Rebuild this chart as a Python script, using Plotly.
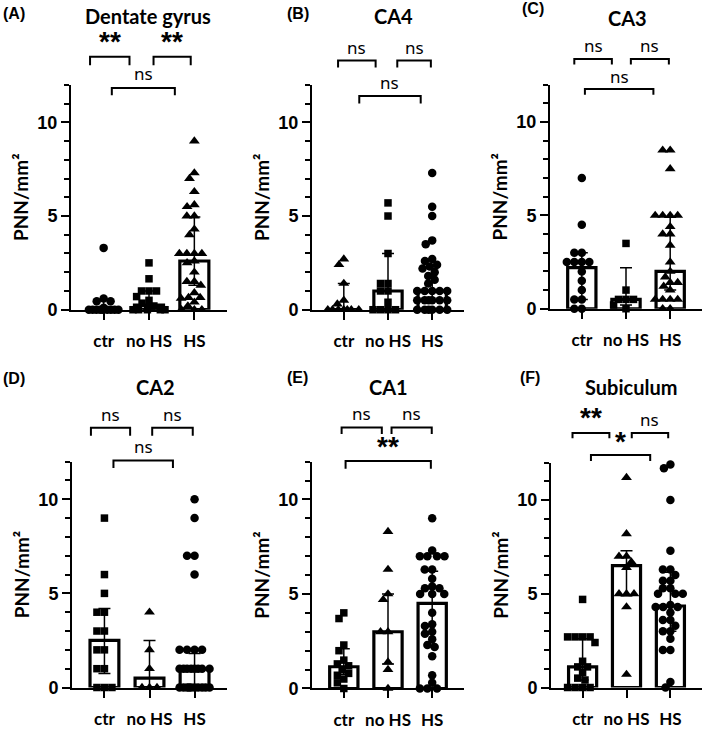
import plotly.graph_objects as go

W, H = 709, 734

# ---------------- data ----------------
groups = ["ctr", "no HS", "HS"]
titles = ["Dentate gyrus", "CA4", "CA3", "CA2", "CA1", "Subiculum"]
panel_labels = ["(A)", "(B)", "(C)", "(D)", "(E)", "(F)"]

# Dentate gyrus
dg_ctr = [3.3, 0.6, 0.45, 0.45, 0.1, 0, 0, 0, 0, 0, 0, 0, 0, 0]
dg_nohs = [2.5, 1.65, 1.0, 1.0, 1.0, 0.7, 0.5, 0.35, 0.2, 0, 0, 0, 0, 0]
dg_hs = [9.0, 7.3, 7.0, 6.3, 5.6, 5.5, 5.0, 5.0, 4.3, 4.0, 3.0, 3.0, 3.0, 3.0, 2.6,
         2.5, 2.0, 1.5, 1.5, 1.3, 0.9, 0.65, 0.65, 0.6, 0.4, 0.2, 0, 0, 0]
dg_median = [0.1, 0.25, 2.6]
dg_upper = [0.5, 1.0, 4.95]
dg_lower = [0.0, 0.0, 1.3]
dg_sig = ["**", "**", "ns"]

# CA4
ca4_ctr = [2.7, 2.4, 1.4, 0.5, 0.3, 0, 0, 0, 0, 0, 0, 0]
ca4_nohs = [5.7, 5.0, 3.0, 1.4, 1.4, 1.0, 1.0, 0.4, 0, 0, 0, 0]
ca4_hs = [7.3, 5.5, 5.0, 3.7, 3.5, 2.7, 2.6, 2.4, 2.3, 2.2, 2.0, 1.8, 1.6, 1.4, 1.0,
          1.0, 1.0, 1.0, 1.0, 0.5, 0.5, 0.5, 0.5, 0.5, 0.5, 0, 0, 0, 0, 0, 0]
ca4_median = [0.0, 1.0, 1.0]
ca4_upper = [1.4, 3.0, 2.2]
ca4_lower = [0.0, 0.0, 0.5]
ca4_sig = ["ns", "ns", "ns"]

# CA3
ca3_ctr = [7.0, 4.5, 3.0, 3.0, 2.5, 2.5, 2.5, 2.5, 2.0, 1.5, 1.0, 0.5, 0.5, 0, 0]
ca3_nohs = [3.5, 1.0, 0.5, 0.5, 0.5, 0.2, 0]
ca3_hs = [8.5, 8.5, 7.5, 5.0, 5.0, 5.0, 5.0, 4.4, 4.0, 4.0, 3.4, 2.5, 2.0, 1.7,
          1.4, 1.4, 1.2, 1.0, 0.5, 0.5, 0.5, 0.5, 0, 0]
ca3_median = [2.2, 0.5, 2.0]
ca3_upper = [3.0, 2.2, 4.9]
ca3_lower = [0.5, 0.2, 1.0]
ca3_sig = ["ns", "ns", "ns"]

# CA2
ca2_ctr = [9, 6, 5, 4, 4, 3, 3, 2, 2, 1, 1, 0, 0, 0]
ca2_nohs = [4, 2, 1, 0, 0, 0]
ca2_hs = [10, 9, 7, 7, 6, 2, 2, 2, 2, 1, 1, 1, 1, 1, 1, 1, 1, 0, 0, 0, 0, 0, 0, 0, 0, 0, 0]
ca2_median = [2.5, 0.5, 1.0]
ca2_upper = [4.2, 2.5, 1.8]
ca2_lower = [0.75, 0.0, 0.0]
ca2_sig = ["ns", "ns", "ns"]

# CA1
ca1_ctr = [4.0, 3.7, 2.3, 2.0, 1.5, 1.3, 1.2, 1.0, 0.8, 0.7, 0.5, 0.3, 0]
ca1_nohs = [8.3, 6.3, 5.0, 4.7, 3.0, 3.0, 1.4, 1.0, 0]
ca1_hs = [9.0, 7.3, 7.0, 7.0, 7.0, 7.0, 6.3, 6.3, 5.8, 5.4, 5.3, 5.3, 5.0, 5.0, 5.0,
          4.0, 3.4, 3.3, 3.0, 2.9, 2.6, 2.3, 2.2, 1.7, 0.7, 0.3, 0, 0, 0]
ca1_median = [1.15, 3.0, 4.5]
ca1_upper = [2.1, 5.0, 6.2]
ca1_lower = [0.75, 1.3, 2.2]
ca1_sig = ["ns", "ns", "**"]

# Subiculum
sub_ctr = [4.7, 2.7, 2.7, 2.7, 2.7, 2.4, 1.4, 1.1, 1.1, 0.8, 0.5, 0.4, 0, 0, 0, 0]
sub_nohs = [11.2, 8.2, 7.0, 7.0, 6.7, 6.4, 5.0, 5.0, 5.0, 4.3, 0.7]
sub_hs = [11.9, 11.7, 10.0, 7.3, 6.3, 6.3, 6.0, 5.7, 5.7, 5.3, 5.3, 5.0, 5.0, 5.0,
          4.4, 4.3, 4.3, 4.3, 4.0, 3.6, 3.6, 3.3, 3.0, 3.0, 2.6, 2.0, 2.0, 0.3, 0]
sub_median = [1.1, 6.5, 4.35]
sub_upper = [2.6, 7.3, 6.15]
sub_lower = [0.4, 4.9, 3.0]
sub_sig = ["**", "ns", "*"]

panels_data = [
    (dg_ctr, dg_nohs, dg_hs, dg_median, dg_upper, dg_lower, dg_sig),
    (ca4_ctr, ca4_nohs, ca4_hs, ca4_median, ca4_upper, ca4_lower, ca4_sig),
    (ca3_ctr, ca3_nohs, ca3_hs, ca3_median, ca3_upper, ca3_lower, ca3_sig),
    (ca2_ctr, ca2_nohs, ca2_hs, ca2_median, ca2_upper, ca2_lower, ca2_sig),
    (ca1_ctr, ca1_nohs, ca1_hs, ca1_median, ca1_upper, ca1_lower, ca1_sig),
    (sub_ctr, sub_nohs, sub_hs, sub_median, sub_upper, sub_lower, sub_sig),
]

# ---------------- styling / layout ----------------
SYMBOLS = [
    ["circle", "square", "triangle-up"],
    ["triangle-up", "square", "circle"],
    ["circle", "square", "triangle-up"],
    ["square", "triangle-up", "circle"],
    ["square", "triangle-up", "circle"],
    ["square", "triangle-up", "circle"],
]
MSIZE = {"circle": 8.5, "square": 7.5, "triangle-up": 9.5}

# plot areas in pixels: left, right, top, bottom
PANEL_PX = [
    (71, 227, 86, 314), (312, 464, 86, 314), (550, 702, 86, 313),
    (72, 227, 468, 697), (312, 464, 468, 698), (551, 702, 469, 697),
]
XR = [-0.72, 2.72]
YR = [0, 12]

# bracket geometry per panel: (x1, x2, ytop, ybottom, ytext) for pairs ctr-noHS, noHS-HS, ctr-HS
BRACKETS = [
    [(-0.30, 0.57, 13.5, 13.05, 14.3), (1.10, 1.92, 13.5, 13.05, 14.3), (0.18, 1.57, 11.83, 11.44, 12.6)],
    [(-0.13, 0.72, 13.3, 12.93, 14.0), (1.21, 1.97, 13.3, 12.93, 14.0), (0.35, 1.74, 11.4, 11.0, 12.15)],
    [(-0.17, 0.68, 13.38, 13.09, 14.1), (1.11, 1.97, 13.38, 13.09, 14.1), (0.07, 1.62, 11.77, 11.47, 12.45)],
    [(-0.30, 0.57, 13.8, 13.37, 14.5), (1.06, 1.96, 13.8, 13.37, 14.5), (0.20, 1.52, 12.06, 11.66, 12.78)],
    [(-0.05, 0.86, 13.8, 13.46, 14.55), (1.08, 1.99, 13.8, 13.46, 14.55), (0.04, 1.97, 12.03, 11.62, 12.81)],
    [(-0.23, 0.61, 13.58, 13.3, 14.41), (1.12, 1.95, 13.58, 13.3, 14.3), (0.19, 1.54, 12.41, 12.09, 13.1)],
]
TITLE_PX = [(148, 16), (393, 16), (627, 18), (155, 392), (388, 392), (631, 392)]
LABEL_PX = [(1, 14), (285, 14), (520, 9), (1, 384), (285, 383), (518, 383)]


def to_paper(i, xd, yd):
    l, r, t, b = PANEL_PX[i]
    px = l + (xd - XR[0]) / (XR[1] - XR[0]) * (r - l)
    py = b - (yd - YR[0]) / (YR[1] - YR[0]) * (b - t)
    return px / W, 1 - py / H


def swarm(vals, ppx, ppy, d=7.5, maxoff=16.0):
    placed, offs = [], []
    for v in vals:
        y = v * ppy
        cands = [0.0]
        for px, py in placed:
            dy = abs(py - y)
            if dy < d:
                dx = (d * d - dy * dy) ** 0.5
                cands += [px - dx, px + dx]

        def ok(x):
            return all((x - px) ** 2 + (y - py) ** 2 >= d * d - 1e-6 for px, py in placed)

        valid = sorted([c for c in cands if ok(c) and abs(c) <= maxoff], key=lambda c: (abs(c), c))
        if valid:
            x = valid[0]
        else:
            grid = [k * 0.5 for k in range(-int(2 * maxoff), int(2 * maxoff) + 1)]
            x = max(grid, key=lambda g: (min((g - px) ** 2 + (y - py) ** 2 for px, py in placed), -abs(g)))
        placed.append((x, y))
        offs.append(x / ppx)
    return offs


fig = go.Figure()
layout = dict(
    width=W, height=H, margin=dict(l=0, r=0, t=0, b=0),
    paper_bgcolor="white", plot_bgcolor="white", showlegend=False,
    font=dict(family="Lato", color="black"),
)
shapes, annotations = [], []

for i, (ctr, nohs, hs, med, up, lo, sig) in enumerate(panels_data):
    n = i + 1
    xa = "x" if n == 1 else f"x{n}"
    ya = "y" if n == 1 else f"y{n}"
    l, r, t, b = PANEL_PX[i]
    ppx = (r - l) / (XR[1] - XR[0])
    ppy = (b - t) / (YR[1] - YR[0])

    fig.add_trace(go.Bar(
        x=[0, 1, 2], y=med, width=0.64, xaxis=xa, yaxis=ya,
        marker=dict(color="white", line=dict(color="black", width=3.2)),
        error_y=dict(type="data", symmetric=False,
                     array=[u - m for u, m in zip(up, med)],
                     arrayminus=[m - lw for m, lw in zip(med, lo)],
                     color="black", thickness=1.5, width=6),
    ))
    for g, vals in enumerate([ctr, nohs, hs]):
        offs = swarm(vals, ppx, ppy)
        sym = SYMBOLS[i][g]
        fig.add_trace(go.Scatter(
            x=[g + o for o in offs], y=vals, mode="markers", xaxis=xa, yaxis=ya,
            cliponaxis=False,
            marker=dict(symbol=sym, size=MSIZE[sym], color="black", line=dict(width=0)),
        ))

    axkey_x = "xaxis" if n == 1 else f"xaxis{n}"
    axkey_y = "yaxis" if n == 1 else f"yaxis{n}"
    layout[axkey_x] = dict(
        domain=[l / W, r / W], anchor=ya, range=XR, tickmode="array",
        tickvals=[0, 1, 2], ticktext=groups, ticks="outside", ticklen=8, tickwidth=2,
        tickcolor="black", showline=True, linewidth=2, linecolor="black",
        showgrid=False, zeroline=False, ticklabelstandoff=7,
        tickfont=dict(family="Lato", size=17, color="black", weight="bold"),
    )
    layout[axkey_y] = dict(
        domain=[1 - b / H, 1 - t / H], anchor=xa, range=YR, tickmode="linear",
        tick0=0, dtick=5, ticks="outside", ticklen=8, tickwidth=2, tickcolor="black",
        showline=True, linewidth=2, linecolor="black", showgrid=False, zeroline=False,
        minor=dict(dtick=1, ticks="outside", ticklen=5, tickwidth=1.5, tickcolor="black", showgrid=False),
        tickfont=dict(family="Liberation Sans", size=18, color="black", weight="bold"),
        title=dict(text="PNN/mm²", standoff=4,
                   font=dict(family="Lato", size=19, color="black", weight="bold")),
    )

    # brackets + significance labels
    for (x1, x2, yt, yb, ytx), s in zip(BRACKETS[i], sig):
        pts = [to_paper(i, x1, yb), to_paper(i, x1, yt), to_paper(i, x2, yt), to_paper(i, x2, yb)]
        path = "M " + " L ".join(f"{px:.5f},{py:.5f}" for px, py in pts)
        shapes.append(dict(type="path", xref="paper", yref="paper", path=path,
                           line=dict(color="black", width=2)))
        tx, ty = to_paper(i, (x1 + x2) / 2, ytx)
        if s == "ns":
            f = dict(family="Noto Sans", size=17, color="black")
        else:
            f = dict(family="Liberation Sans", size=28, color="black", weight="bold")
        annotations.append(dict(text=s, x=tx, y=ty, xref="paper", yref="paper",
                                xanchor="center", yanchor="middle", showarrow=False, font=f))

    # title & panel label
    annotations.append(dict(text=titles[i], x=TITLE_PX[i][0] / W, y=1 - TITLE_PX[i][1] / H,
                            xref="paper", yref="paper", xanchor="center", yanchor="middle",
                            showarrow=False,
                            font=dict(family="Lato", size=20, color="black", weight="bold")))
    annotations.append(dict(text=panel_labels[i], x=LABEL_PX[i][0] / W, y=1 - LABEL_PX[i][1] / H,
                            xref="paper", yref="paper", xanchor="left", yanchor="middle",
                            showarrow=False,
                            font=dict(family="Liberation Sans", size=16, color="black", weight="bold")))

layout["shapes"] = shapes
layout["annotations"] = annotations
fig.update_layout(**layout)

fig.write_html("out.html", config={"displayModeBar": False},
               post_script="document.body.style.margin='0';")
